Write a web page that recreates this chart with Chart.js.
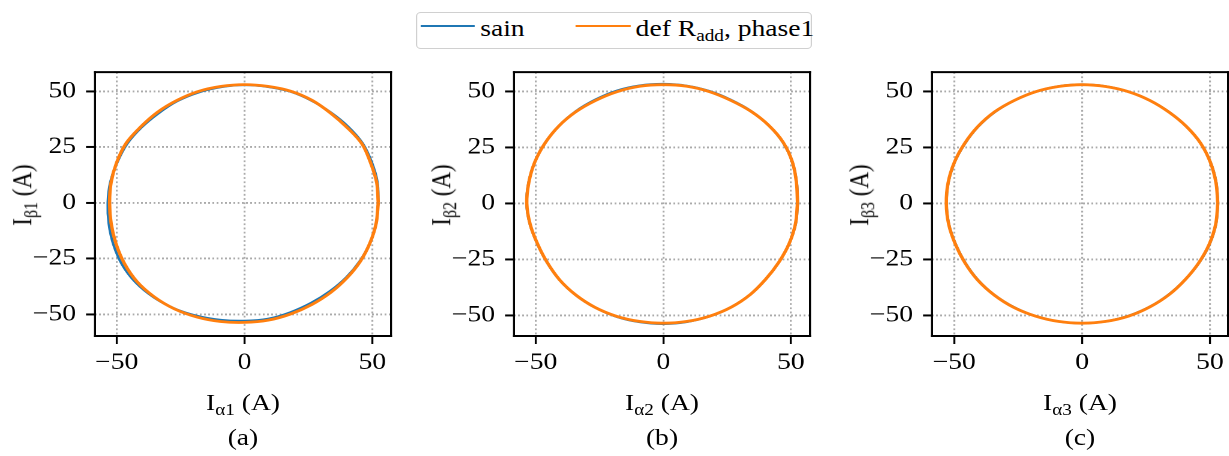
<!DOCTYPE html>
<html>
<head>
<meta charset="utf-8">
<script src="https://cdn.jsdelivr.net/npm/chart.js@4.4.1/dist/chart.umd.min.js"></script>
<style>
  html, body { margin: 0; padding: 0; background: #fff; overflow: hidden; }
  body { width: 1229px; height: 456px; position: relative; font-family: 'Liberation Serif', 'Times New Roman', serif; color: #000; }
  /* each panel is laid out narrow and widened horizontally */
  .panel { position: absolute; top: 0; width: 316px; height: 456px; transform: scaleX(1.2); transform-origin: 0 0; }
  .panel canvas { position: absolute; left: 0; top: 50px; }
  .ytitle { position: absolute; top: 195px; left: 7px; font-size: 23px; line-height: 23px; white-space: nowrap;
            transform: translate(-50%, -50%) rotate(-90deg); }
  .xtitle { position: absolute; left: 190px; font-size: 23px; line-height: 23px; white-space: nowrap; transform: translateX(-50%); }
  .sub { font-size: 16px; position: relative; top: 5px; }
  #legend { position: absolute; left: 416px; top: 12px; width: 328px; height: 35px; border: 1.5px solid #d0d0d0; border-radius: 4px;
            background: #fff; transform: scaleX(1.2); transform-origin: 0 0; }
  #legend .line { position: absolute; top: 11.5px; height: 2px; }
  #legend .txt { position: absolute; top: 3.5px; font-size: 23px; line-height: 23px; white-space: nowrap; }
</style>
</head>
<body>

<div id="legend">
  <div class="line" style="left:3px;width:45px;background:#1f77b4"></div>
  <div class="txt" style="left:52.5px">sain</div>
  <div class="line" style="left:132px;width:46px;background:#ff7f0e"></div>
  <div class="txt" style="left:182px">def R<span class="sub">add</span>, phase1</div>
</div>

<div class="panel" style="left:15px">
  <canvas id="chartA" width="316" height="336"></canvas>
  <div class="ytitle">I<span class="sub">β1</span> (A)</div>
  <div class="xtitle" style="top:391px">I<span class="sub">α1</span> (A)</div>
  <div class="xtitle" style="top:426px">(a)</div>
</div>
<div class="panel" style="left:434px">
  <canvas id="chartB" width="316" height="336"></canvas>
  <div class="ytitle">I<span class="sub">β2</span> (A)</div>
  <div class="xtitle" style="top:391px">I<span class="sub">α2</span> (A)</div>
  <div class="xtitle" style="top:426px">(b)</div>
</div>
<div class="panel" style="left:852px">
  <canvas id="chartC" width="316" height="336"></canvas>
  <div class="ytitle">I<span class="sub">β3</span> (A)</div>
  <div class="xtitle" style="top:391px">I<span class="sub">α3</span> (A)</div>
  <div class="xtitle" style="top:426px">(c)</div>
</div>

<script>
// Tick values shared by all three panels
const xTicks = [-50, 0, 50];
const yTicks = [-50, -25, 0, 25, 50];

// Current trajectories [I_alpha, I_beta] in A, one loop per phase
const sainA = [[52.3,0.0],[52.0,9.2],[49.8,18.1],[46.2,26.7],[40.6,34.1],[33.9,40.4],[26.4,45.7],[18.1,49.8],[9.2,52.0],[0.0,52.8],
  [-9.1,51.9],[-18.0,49.5],[-26.3,45.6],[-33.7,40.1],[-40.3,33.8],[-45.9,26.5],[-49.8,18.1],[-52.5,9.3],[-53.5,0.0],[-53.1,-9.4],
  [-51.3,-18.7],[-47.9,-27.7],[-42.6,-35.7],[-35.5,-42.4],[-27.4,-47.4],[-18.5,-50.7],[-9.3,-52.5],[0.0,-52.9],[9.2,-52.0],[17.9,-49.1],
  [26.0,-44.9],[33.3,-39.7],[39.8,-33.4],[45.1,-26.1],[49.1,-17.9],[51.5,-9.1]];
const defA = [[52.3,0.0],[51.7,9.1],[49.3,18.0],[45.9,26.5],[40.2,33.7],[33.7,40.2],[26.5,45.9],[18.2,50.0],[9.2,52.2],[0.0,53.0],
  [-9.2,52.2],[-18.2,49.9],[-26.5,45.9],[-34.1,40.6],[-40.6,34.1],[-46.3,26.8],[-50.0,18.2],[-52.2,9.2],[-52.8,0.0],[-52.2,-9.2],
  [-50.3,-18.3],[-47.0,-27.2],[-42.1,-35.3],[-35.4,-42.1],[-27.5,-47.5],[-18.6,-51.2],[-9.4,-53.2],[0.0,-53.6],[9.3,-52.6],[18.1,-49.8],
  [26.3,-45.6],[33.7,-40.2],[40.1,-33.6],[45.3,-26.2],[49.1,-17.9],[51.5,-9.1]];

const sainB = [[52.7,0.0],[52.3,9.2],[50.6,18.4],[46.9,27.1],[41.4,34.7],[34.5,41.1],[26.6,46.1],[18.2,50.0],[9.2,52.4],[0.0,53.2],
  [-9.3,52.5],[-18.3,50.2],[-26.7,46.2],[-34.4,41.0],[-41.0,34.4],[-46.4,26.8],[-50.4,18.3],[-52.8,9.3],[-53.6,0.0],[-52.3,-9.2],
  [-49.4,-18.0],[-45.6,-26.3],[-40.7,-34.1],[-34.3,-40.9],[-26.8,-46.4],[-18.4,-50.5],[-9.3,-52.9],[0.0,-53.7],[9.3,-52.8],[18.3,-50.3],
  [26.7,-46.2],[34.1,-40.6],[40.2,-33.7],[45.3,-26.2],[49.3,-18.0],[51.9,-9.1]];
const defB = [[52.6,0.0],[52.2,9.2],[50.6,18.4],[47.0,27.2],[41.4,34.7],[34.4,41.0],[26.5,45.9],[18.1,49.8],[9.2,52.2],[0.0,52.9],
  [-9.2,52.2],[-18.1,49.8],[-26.5,45.9],[-34.3,40.8],[-41.0,34.4],[-46.4,26.8],[-50.4,18.3],[-52.7,9.3],[-53.5,0.0],[-52.2,-9.2],
  [-49.3,-18.0],[-45.5,-26.3],[-40.6,-34.1],[-34.3,-40.8],[-26.8,-46.3],[-18.3,-50.3],[-9.3,-52.6],[0.0,-53.4],[9.3,-52.6],[18.3,-50.2],
  [26.7,-46.2],[34.1,-40.6],[40.2,-33.7],[45.3,-26.2],[49.3,-18.0],[51.8,-9.1]];

const sainC = [[53.2,0.0],[52.5,9.3],[50.3,18.3],[46.4,26.8],[40.8,34.3],[34.1,40.7],[26.5,45.9],[18.1,49.8],[9.2,52.2],[0.0,53.0],
  [-9.2,52.2],[-18.1,49.8],[-26.5,45.9],[-34.1,40.7],[-40.7,34.1],[-45.9,26.5],[-49.9,18.2],[-52.3,9.2],[-53.0,0.0],[-52.1,-9.2],
  [-49.5,-18.0],[-45.7,-26.4],[-40.7,-34.1],[-34.3,-40.8],[-26.7,-46.2],[-18.3,-50.2],[-9.3,-52.6],[0.0,-53.4],[9.3,-52.6],[18.2,-50.1],
  [26.6,-46.0],[34.0,-40.5],[40.4,-33.9],[45.8,-26.5],[49.9,-18.2],[52.4,-9.2]];
const defC = [[53.1,0.0],[52.4,9.2],[50.2,18.3],[46.4,26.8],[40.8,34.3],[34.1,40.6],[26.5,45.9],[18.1,49.8],[9.2,52.1],[0.0,52.9],
  [-9.2,52.1],[-18.1,49.8],[-26.5,45.9],[-34.2,40.8],[-40.8,34.2],[-46.0,26.6],[-50.0,18.2],[-52.4,9.2],[-53.1,0.0],[-52.2,-9.2],
  [-49.6,-18.1],[-45.8,-26.5],[-40.8,-34.2],[-34.3,-40.9],[-26.8,-46.3],[-18.3,-50.2],[-9.3,-52.6],[0.0,-53.4],[9.3,-52.6],[18.3,-50.2],
  [26.6,-46.1],[34.1,-40.6],[40.4,-33.9],[45.7,-26.4],[49.8,-18.1],[52.3,-9.2]];

const FONT = { family: "'Liberation Serif', 'Times New Roman', serif", size: 23 };
const S = 1.2; // horizontal widening applied to each panel

// signed label with a true minus sign
const fmt = v => (v < 0 ? '\u2212' + Math.abs(v) : String(v));

// closed loop as {x, y} points
const loop = pts => pts.concat([pts[0]]).map(p => ({ x: p[0], y: p[1] }));

// full black box around the plotting area
const frame = {
  id: 'frame',
  afterDraw(chart) {
    const { ctx, chartArea: a } = chart;
    const vw = 2 / S, hw = 2;
    ctx.save();
    ctx.fillStyle = '#000';
    ctx.fillRect(a.left - vw / 2, a.top - hw / 2, vw, a.bottom - a.top + hw);
    ctx.fillRect(a.right - vw / 2, a.top - hw / 2, vw, a.bottom - a.top + hw);
    ctx.fillRect(a.left - vw / 2, a.top - hw / 2, a.right - a.left + vw, hw);
    ctx.fillRect(a.left - vw / 2, a.bottom - hw / 2, a.right - a.left + vw, hw);
    ctx.restore();
  }
};

function makeChart(id, sain, def, xRange, yRange) {
  const yAxisWidth = 80 / S;
  const plotWidth = 296 / S;
  return new Chart(document.getElementById(id), {
    type: 'scatter',
    data: {
      datasets: [
        { label: 'sain', data: loop(sain), showLine: true, borderColor: '#1f77b4', backgroundColor: '#1f77b4',
          borderWidth: 2.2, pointRadius: 0, tension: 0.35, order: 1 },
        { label: 'def R_add, phase1', data: loop(def), showLine: true, borderColor: '#ff7f0e', backgroundColor: '#ff7f0e',
          borderWidth: 2.8, pointRadius: 0, tension: 0.35, order: 0 }
      ]
    },
    options: {
      responsive: false,
      animation: false,
      devicePixelRatio: 2,
      events: [],
      layout: { padding: { left: 0, top: 10, bottom: 0, right: 316 - yAxisWidth - plotWidth } },
      plugins: { legend: { display: false }, tooltip: { enabled: false } },
      scales: {
        x: {
          type: 'linear', min: xRange[0], max: xRange[1],
          afterBuildTicks: s => { s.ticks = xTicks.map(v => ({ value: v })); },
          afterFit: s => { s.height = 50; },
          grid: { color: '#aaaaaa', lineWidth: 1.9 / S, tickColor: '#000', tickWidth: 2 / S, tickLength: 8, tickBorderDash: [] },
          border: { display: false, dash: [1.8, 2.4] },
          ticks: { font: FONT, color: '#000', padding: 5, maxRotation: 0, autoSkip: false, callback: fmt }
        },
        y: {
          type: 'linear', min: yRange[0], max: yRange[1],
          afterBuildTicks: s => { s.ticks = yTicks.map(v => ({ value: v })); },
          afterFit: s => { s.width = yAxisWidth; },
          grid: { color: '#aaaaaa', lineWidth: 1.9, tickColor: '#000', tickWidth: 2, tickLength: 9 / S, tickBorderDash: [] },
          border: { display: false, dash: [1.8 / S, 2.4 / S] },
          ticks: { font: FONT, color: '#000', padding: 10 / S, autoSkip: false, callback: fmt }
        }
      }
    },
    plugins: [frame]
  });
}

makeChart('chartA', sainA, defA, [-58.5, 57.3], [-59.7, 58.6]);
makeChart('chartB', sainB, defB, [-58.5, 57.5], [-59.1, 58.5]);
makeChart('chartC', sainC, defC, [-58.7, 57.1], [-59.1, 58.5]);
</script>
</body>
</html>
